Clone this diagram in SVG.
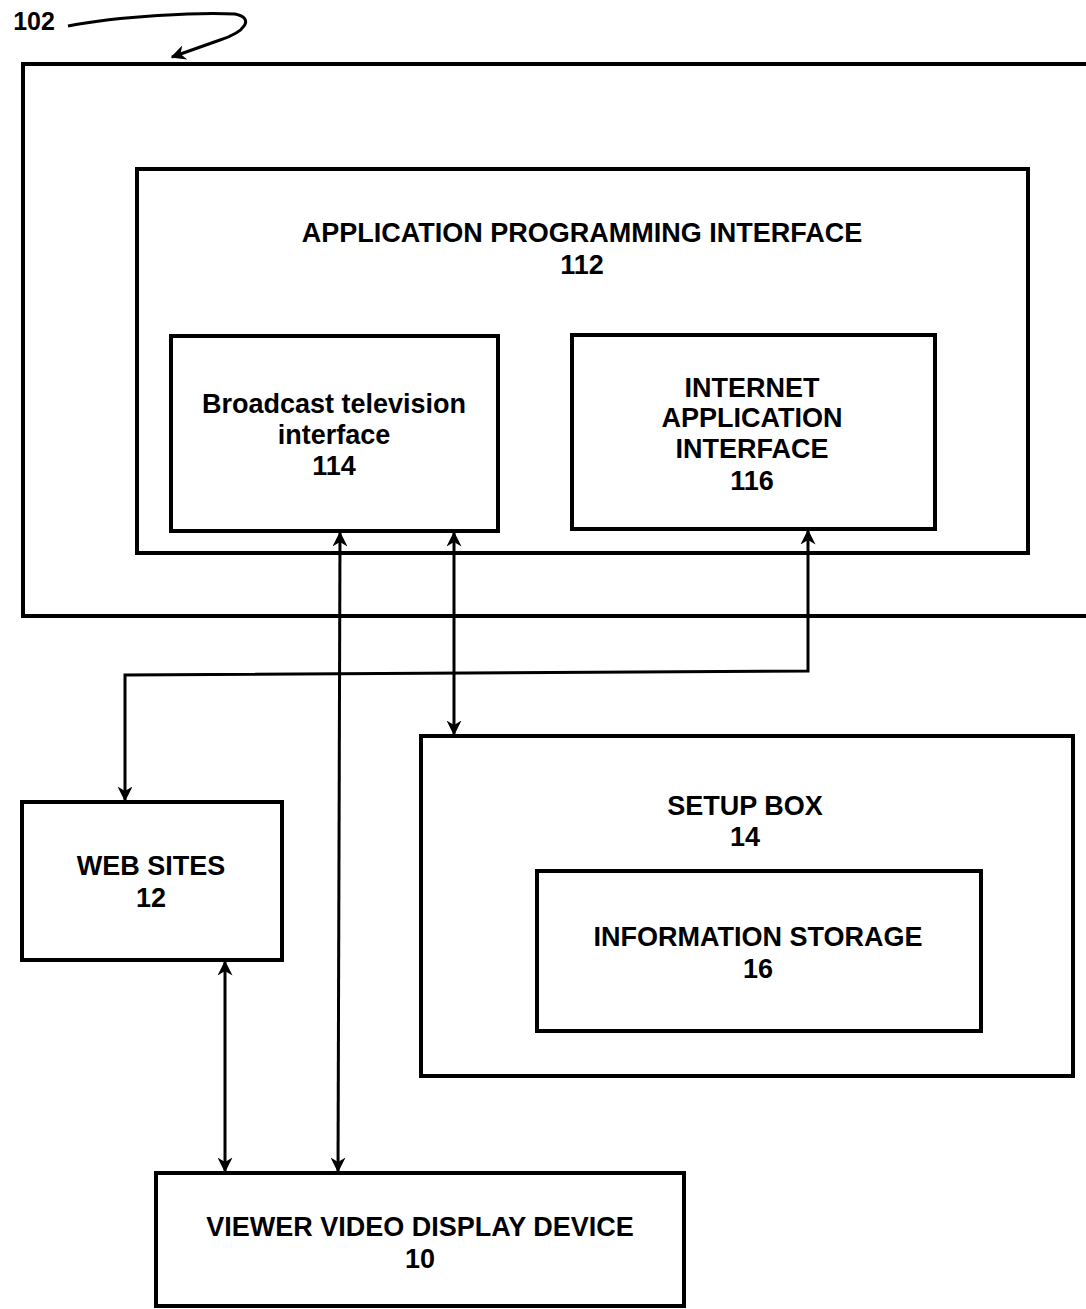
<svg xmlns="http://www.w3.org/2000/svg" width="1086" height="1309" viewBox="0 0 1086 1309">
<style>
.box{fill:none;stroke:#000;stroke-width:4}
.ln{fill:none;stroke:#000;stroke-width:3}
text{font-family:"Liberation Sans",Arial,sans-serif;font-weight:bold;font-size:27px;fill:#000;text-anchor:middle}
</style>
<defs>
<marker id="ah" viewBox="0 0 10 10" refX="9" refY="5" markerWidth="5" markerHeight="5" orient="auto-start-reverse" markerUnits="strokeWidth">
<path d="M0,0 L10,5 L0,10 L3,5 z" fill="#000"/>
</marker>
</defs>
<rect width="1086" height="1309" fill="#fff"/>
<g id="label102">
<text x="34" y="30" style="font-size:25px">102</text>
<path class="ln" d="M68,26 C120,16 200,12 235,14 C255,18 245,32 220,40 L172,57" marker-end="url(#ah)"/>
</g>
<g id="outer">
<path class="box" d="M1086,64 L23,64 L23,616 L1086,616"/>
</g>
<g id="api">
<rect class="box" x="137" y="169" width="891" height="384"/>
<text x="582" y="242">APPLICATION PROGRAMMING INTERFACE</text>
<text x="582" y="274">112</text>
</g>
<g id="broadcast">
<rect class="box" x="171" y="336" width="327" height="195"/>
<text x="334" y="413">Broadcast television</text>
<text x="334" y="444">interface</text>
<text x="334" y="475">114</text>
</g>
<g id="internet">
<rect class="box" x="572" y="335" width="363" height="194"/>
<text x="752" y="397">INTERNET</text>
<text x="752" y="427">APPLICATION</text>
<text x="752" y="458">INTERFACE</text>
<text x="752" y="490">116</text>
</g>
<g id="setup">
<rect class="box" x="421" y="736" width="652" height="340"/>
<text x="745" y="815">SETUP BOX</text>
<text x="745" y="846">14</text>
</g>
<g id="storage">
<rect class="box" x="537" y="871" width="444" height="160"/>
<text x="758" y="946">INFORMATION STORAGE</text>
<text x="758" y="978">16</text>
</g>
<g id="websites">
<rect class="box" x="22" y="802" width="260" height="158"/>
<text x="151" y="875">WEB SITES</text>
<text x="151" y="907">12</text>
</g>
<g id="viewer">
<rect class="box" x="156" y="1173" width="528" height="133"/>
<text x="420" y="1236">VIEWER VIDEO DISPLAY DEVICE</text>
<text x="420" y="1268">10</text>
</g>
<g id="connectors">
<line class="ln" x1="340" y1="533" x2="338" y2="1171" marker-start="url(#ah)" marker-end="url(#ah)"/>
<line class="ln" x1="454" y1="533" x2="454" y2="734" marker-start="url(#ah)" marker-end="url(#ah)"/>
<path class="ln" d="M808,531 L808,671 L125,675 L125,800" marker-start="url(#ah)" marker-end="url(#ah)"/>
<line class="ln" x1="225" y1="962" x2="225" y2="1171" marker-start="url(#ah)" marker-end="url(#ah)"/>
</g>
</svg>
